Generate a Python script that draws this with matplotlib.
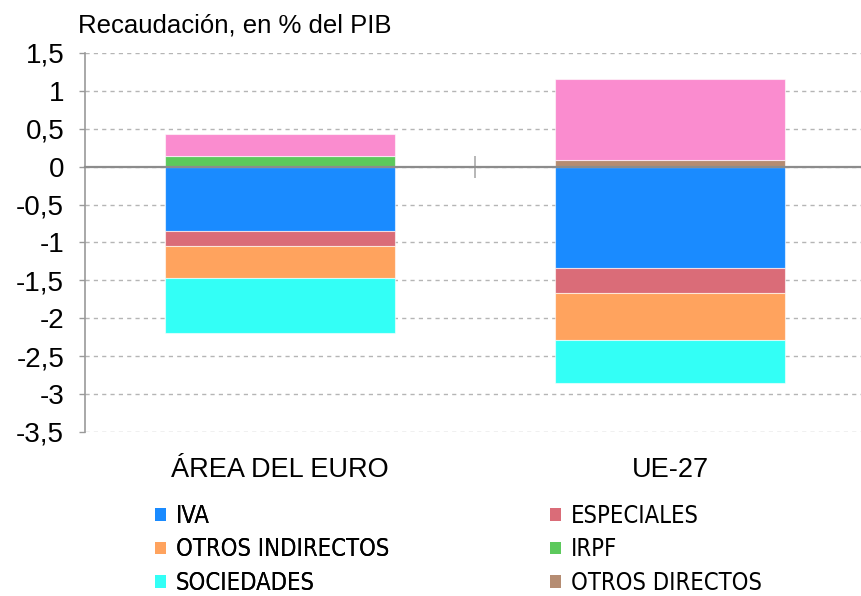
import matplotlib
matplotlib.use("Agg")
import matplotlib.pyplot as plt
from matplotlib.patches import Patch
from matplotlib import font_manager as fm
import numpy as np

categories = ["ÁREA DEL EURO", "UE-27"]
iva = [-0.85, -1.33]
especiales = [-0.20, -0.33]
otros_indirectos = [-0.42, -0.63]
sociedades = [-0.72, -0.57]
irpf = [0.145, 0.0]
otros_directos = [0.0, 0.088]
otros_pos = [0.285, 1.07]   # pink series (not listed in legend)
yticks = [1.5, 1, 0.5, 0, -0.5, -1, -1.5, -2, -2.5, -3, -3.5]
ytick_labels = ["1,5", "1", "0,5", "0", "-0,5", "-1", "-1,5", "-2", "-2,5", "-3", "-3,5"]

colors = {
    "IVA": "#1a8bff",
    "ESPECIALES": "#da6c78",
    "OTROS INDIRECTOS": "#ffa35e",
    "IRPF": "#5cc95c",
    "SOCIEDADES": "#33fff6",
    "OTROS DIRECTOS": "#b58c72",
    "OTROS": "#fa8ccf",
}

main_font = "Liberation Sans"
plt.rcParams["font.family"] = [main_font, "DejaVu Sans"]

# condensed upright font for the legend if available
cond = [f for f in fm.fontManager.ttflist
        if f.name == "DejaVu Sans" and "condensed" in str(f.stretch).lower() + f.fname.lower()
        and f.style == "normal" and f.weight in (400, "normal", "regular")
        and "oblique" not in f.fname.lower() and "bold" not in f.fname.lower()]
legend_prop = fm.FontProperties(fname=cond[0].fname, size=17) if cond else \
    fm.FontProperties(family=main_font, size=15)

fig = plt.figure(figsize=(8.62, 5.96), dpi=100)
ax = fig.add_axes([85/862, 1-432/596, 780/862, 379/596])

x = np.arange(len(categories))
w = 0.59
ekw = dict(edgecolor=(1, 1, 1, 0.6), linewidth=0.8, zorder=3)

neg_series = [("IVA", iva), ("ESPECIALES", especiales),
              ("OTROS INDIRECTOS", otros_indirectos), ("SOCIEDADES", sociedades)]
bottom = np.zeros(len(categories))
for name, vals in neg_series:
    v = np.array(vals)
    ax.bar(x, v, w, bottom=bottom, color=colors[name], **ekw)
    bottom = bottom + v

pos_series = [("IRPF", irpf), ("OTROS DIRECTOS", otros_directos), ("OTROS", otros_pos)]
bottom = np.zeros(len(categories))
for name, vals in pos_series:
    v = np.array(vals)
    ax.bar(x, v, w, bottom=bottom, color=colors[name], **ekw)
    bottom = bottom + v

ax.set_xlim(-0.5, 1.5)
ax.set_ylim(-3.5, 1.5)
ax.set_yticks(yticks)
ax.set_yticklabels(ytick_labels)
ax.yaxis.grid(True, color="#b5b5b5", linestyle=(0, (3, 3)), linewidth=1.0, zorder=0)
ax.tick_params(axis="y", length=4, width=1, color="#999999", pad=11, labelsize=20)

for s in ["top", "right"]:
    ax.spines[s].set_visible(False)
ax.spines["left"].set_color("#999999")
ax.spines["left"].set_linewidth(1.2)
ax.spines["bottom"].set_position(("data", 0))
ax.spines["bottom"].set_color("#8c8c8c")
ax.spines["bottom"].set_linewidth(1.6)
ax.spines["bottom"].set_zorder(4)
ax.set_xticks([0.5])
ax.set_xticklabels([])
ax.tick_params(axis="x", direction="inout", length=16, width=1.2, color="#aaaaaa")

sec = ax.secondary_xaxis(0.0)
sec.set_xticks(x)
sec.set_xticklabels(categories)
sec.tick_params(length=0, pad=18, labelsize=19.5)
sec.spines["bottom"].set_visible(False)

fig.text(78/862, 1-33/596, "Recaudación, en % del PIB", fontsize=18.5, ha="left", va="baseline")

def make_legend(labels, xpx):
    handles = [Patch(facecolor=colors[l], edgecolor="none") for l in labels]
    leg = fig.legend(handles, labels, loc="upper left",
                     bbox_to_anchor=(xpx/862, 1-504/596), bbox_transform=fig.transFigure,
                     frameon=False, borderpad=0, borderaxespad=0,
                     handlelength=0.45, handleheight=0.45, handletextpad=0.42,
                     labelspacing=0.4, prop=legend_prop)
    return leg

l1 = make_legend(["IVA", "OTROS INDIRECTOS", "SOCIEDADES"], 155)
fig.add_artist(l1)
make_legend(["ESPECIALES", "IRPF", "OTROS DIRECTOS"], 550)

fig.savefig("out.png", dpi=100)
